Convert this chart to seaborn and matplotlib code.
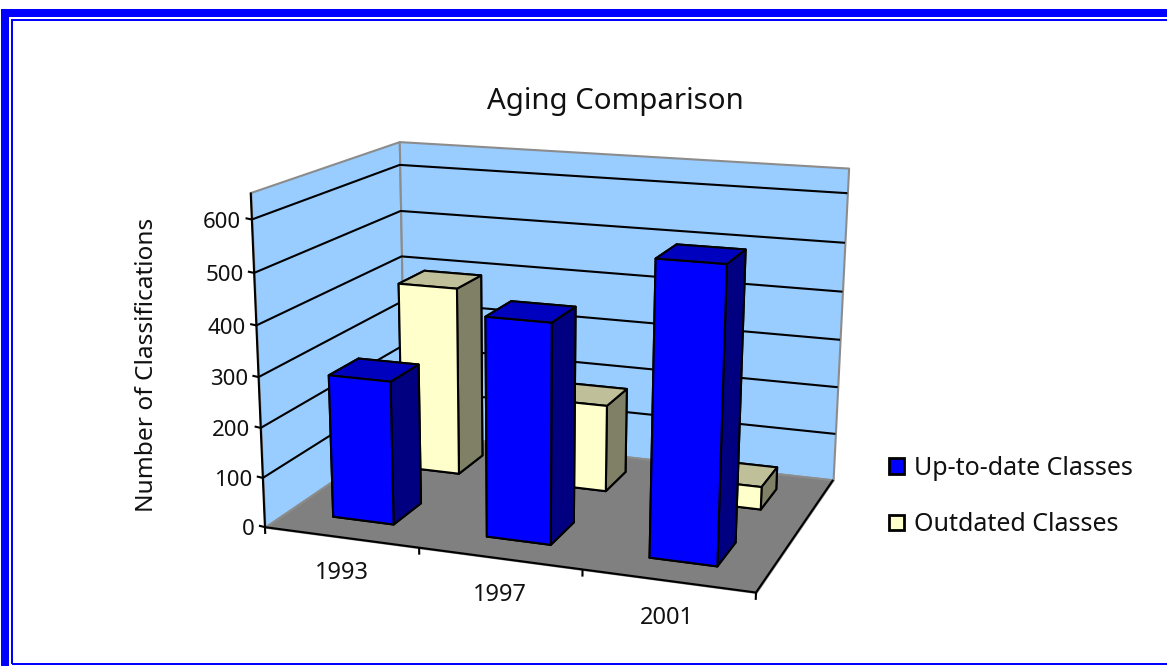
import numpy as np
import matplotlib
matplotlib.use("Agg")
import matplotlib.pyplot as plt
from matplotlib.patches import Rectangle, Patch
from mpl_toolkits.mplot3d import proj3d
from mpl_toolkits.mplot3d.art3d import Poly3DCollection, Line3DCollection
import seaborn as sns

# Chart data
years = ["1993", "1997", "2001"]
up_to_date = [287, 430, 563]
outdated = [396, 181, 47]
value_ticks = [0, 100, 200, 300, 400, 500, 600]
title = "Aging Comparison"
value_label = "Number of Classifications"
series_names = ["Up-to-date Classes", "Outdated Classes"]

sns.set_theme(style="white")
plt.rcParams["font.family"] = ["Noto Sans", "DejaVu Sans"]

W, H = 1167, 666
Z_TOP = 650
N_X, N_Y = len(years), 2

blue, cream = sns.color_palette(["#0000FF", "#FFFFCC"])
blue_top, cream_top = sns.color_palette(["#0000BF", "#BFBF99"])
blue_side, cream_side = sns.color_palette(["#000080", "#808066"])
WALL = "#99CCFF"
FLOOR = "#808080"
EDGE = "#8C8C8C"


def fit_camera():
    """Solve a pinhole camera from box corners to canvas positions."""
    pairs = [
        ((0, 0, 0), (265, 527)), ((3, 0, 0), (756, 593)),
        ((0, 2, 0), (405, 433)), ((3, 2, 0), (833, 479)),
        ((0, 0, 650), (251, 192)), ((0, 2, 650), (399, 141)),
        ((3, 2, 650), (849, 169)), ((0, 0, 600), (251.5, 220.5)),
        ((0, 2, 600), (400, 165)), ((3, 2, 600), (847, 192.5)),
        ((0, 0, 100), (263, 476.7)), ((1, 0, 0), (418.5, 547.5)),
        ((2, 0, 0), (583, 570)),
    ]
    S = np.diag([1 / 3, 1 / 2, 1 / Z_TOP, 1.0])
    rows = []
    for (x, y, z), (u, v) in pairs:
        X = S @ np.array([x, y, z, 1.0])
        u, v = u / 1000, v / 1000
        rows.append(np.r_[X, 0, 0, 0, 0, -u * X])
        rows.append(np.r_[0, 0, 0, 0, X, -v * X])
    P = np.linalg.svd(np.array(rows))[2][-1].reshape(3, 4)
    P = P @ S
    P[:2] *= 1000
    centre = np.array([1.5, 1.0, Z_TOP / 2, 1.0])
    P /= P[2] @ centre
    depth = P[2] - np.array([0, 0, 0, 0.5])
    return np.vstack([P[0], P[1], depth, P[2]])


CAMERA = fit_camera()

fig = plt.figure(figsize=(W / 100, H / 100), dpi=100, facecolor="white")
ax = fig.add_axes([0, 0, 1, 1], projection="3d", computed_zorder=False)
ax.apply_aspect = lambda position=None: None
ax.get_proj = lambda: CAMERA
ax.set_axis_off()
ax.patch.set_visible(False)
ax.set_autoscale_on(False)
ax.viewLim.intervalx = (0, W)
ax.viewLim.intervaly = (H, 0)

# Walls and floor of the box
back_wall = [(0, N_Y, 0), (N_X, N_Y, 0), (N_X, N_Y, Z_TOP), (0, N_Y, Z_TOP)]
left_wall = [(0, 0, 0), (0, N_Y, 0), (0, N_Y, Z_TOP), (0, 0, Z_TOP)]
floor = [(0, 0, 0), (N_X, 0, 0), (N_X, N_Y, 0), (0, N_Y, 0)]
for verts, face, z in [(left_wall, WALL, 1), (back_wall, WALL, 1), (floor, FLOOR, 2)]:
    pane = Poly3DCollection([verts], facecolor=face, edgecolor=EDGE, linewidth=1.5)
    pane.set_zorder(z)
    ax.add_collection3d(pane)


def add_lines(segments, zorder):
    lines = Line3DCollection(segments, colors="black", linewidths=1.5, capstyle="butt")
    lines.set_zorder(zorder)
    ax.add_collection3d(lines, autolim=False)


def label_at(x, y, z, text, **kwargs):
    """Put a tick label on the canvas at a projected box position."""
    u, v, _ = proj3d.proj_transform(x, y, z, CAMERA)
    fig.text(float(u) / W, 1 - float(v) / H, text, va="center", color="#111111", **kwargs)


# Gridlines run along the left and back walls
add_lines([[(0, 0, v), (0, N_Y, v), (N_X, N_Y, v)] for v in value_ticks[1:]], 3)

# Front and right floor edges, value axis and tick marks
add_lines([[(0, 0, 0), (N_X, 0, 0), (N_X, N_Y, 0)]], 4)
add_lines([[(0, 0, 0), (0, 0, Z_TOP)]], 4)
add_lines([[(0, 0, v), (-0.04, 0, v + 1.5)] for v in value_ticks], 4)
add_lines([[(i, 0, 0), (i, 0, -14)] for i in range(N_X + 1)], 4)

for v in value_ticks:
    label_at(-0.07, 0, v - 7, str(v), ha="right", fontsize=16)
for i, year in enumerate(years):
    label_at(i + 0.5, 0, -72, year, ha="center", fontsize=17)

# Bars, back row first so the front row paints over it
BAR = 0.4
GAP = 0.3


def draw_row(values, row, front, top, side, zorder):
    for i, v in enumerate(values):
        col = ax.bar3d(i + GAP, row + GAP, 0, BAR, BAR, v,
                       color=[front, top, front, front, side, side],
                       shade=False, edgecolor="black", linewidth=1.5)
        col.set_zorder(zorder + i)


draw_row(outdated, 1, cream, cream_top, cream_side, 5)
draw_row(up_to_date, 0, blue, blue_top, blue_side, 8)

# Title, axis title, legend and the double border
fig.text(615 / W, 1 - 101 / H, title, ha="center", va="center", fontsize=21.2, color="#111111")
fig.text(147 / W, 1 - 364.5 / H, value_label, rotation=90, ha="center", va="center",
         fontsize=17.6, color="#111111")
handles = [Patch(facecolor=blue, edgecolor="black", linewidth=2),
           Patch(facecolor=cream, edgecolor="black", linewidth=2)]
fig.legend(handles, series_names, loc="upper left",
           bbox_to_anchor=(878.5 / W, 1 - 446 / H), frameon=False, fontsize=18,
           handlelength=0.6, handleheight=0.6, handletextpad=0.4,
           labelspacing=1.25, labelcolor="#111111", borderpad=0.4, borderaxespad=0)


def frame(x, y, w, h, px):
    fig.add_artist(Rectangle((x / W, 1 - (y + h) / H), w / W, h / H, fill=False,
                             edgecolor="#0000FF", linewidth=px * 0.72,
                             transform=fig.transFigure, joinstyle="miter"))


frame(5, 13, 1400, 1000, 8)
frame(12, 20, 1400, 644, 2)

fig.savefig("out.png", dpi=100)
